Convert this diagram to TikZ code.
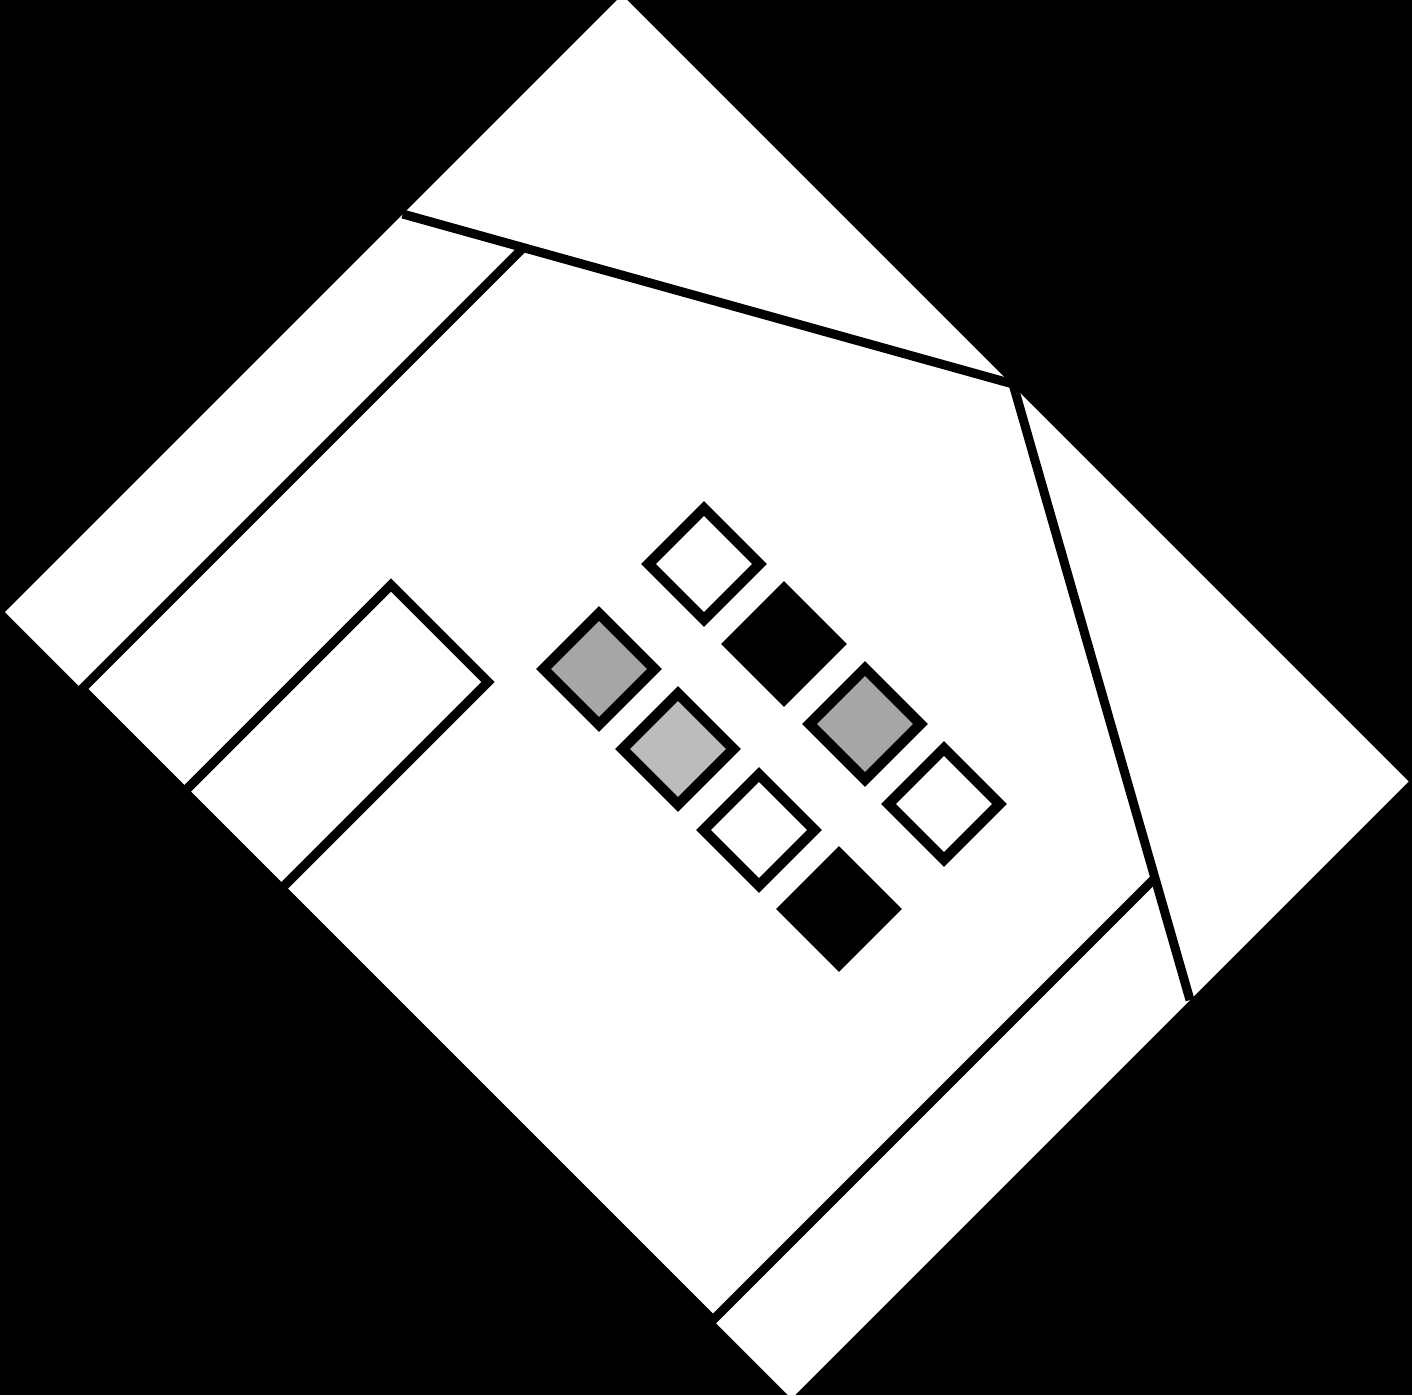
\documentclass[tikz,border=0pt]{standalone}
\definecolor{grayA}{RGB}{166,166,166}
\definecolor{grayB}{RGB}{188,188,188}
\begin{document}
\begin{tikzpicture}[x=1pt,y=-1pt,
  frameline/.style={line width=9pt, line join=miter},
  tile/.style={draw=black, line width=10.5pt, rotate=45, minimum size=78.5pt, inner sep=0pt, shape=rectangle},
  emptytile/.style={tile, fill=white},
  graytile/.style={tile, fill=grayA},
  lighttile/.style={tile, fill=grayB},
  solidtile/.style={tile, fill=black}]
\useasboundingbox (0,0) rectangle (1412,1395);
\fill[black] (0,0) rectangle (1412,1395);
\clip (0,0) rectangle (1412,1395);
% outer sheet
\fill[white] (622,-5) -- (1408.5,781.5) -- (791.5,1398.5) -- (5,612) -- cycle;
% frame points
\coordinate (tA) at (402.7,214);
\coordinate (tB) at (523,248);
\coordinate (tC) at (1013,384);
\coordinate (rD) at (1155.5,877.5);
\coordinate (rE) at (1190,1000);
\coordinate (bF) at (713,1320);
\coordinate (lG) at (82,689);
\draw[frameline] (tA) -- (tC) -- (rE);
\draw[frameline] (tB) -- (lG) -- (bF) -- (rD);
% left rectangle
\coordinate (rL) at (184.5,791.5);
\coordinate (rT) at (391,585);
\coordinate (rR) at (488,682);
\coordinate (rB) at (281.5,888.5);
\draw[line width=9.5pt, line join=miter] (rL) -- (rT) -- (rR) -- (rB);
% tiles
\node[emptytile] (s1) at (704,564) {};
\node[solidtile] (s2) at (784,644) {};
\node[graytile]  (s3) at (599,669) {};
\node[lighttile] (s4) at (678,749) {};
\node[graytile]  (s5) at (865,724) {};
\node[emptytile] (s6) at (759,830) {};
\node[emptytile] (s7) at (944,804) {};
\node[solidtile] (s8) at (839,909) {};
\end{tikzpicture}
\end{document}
